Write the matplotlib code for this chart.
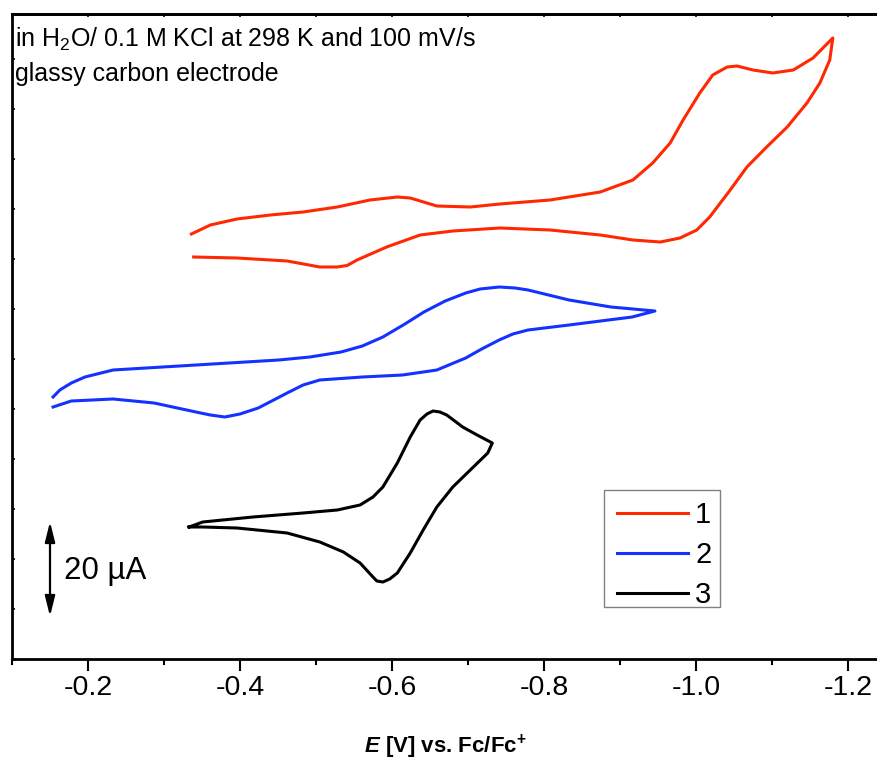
import matplotlib
matplotlib.use("Agg")
import matplotlib.pyplot as plt
from matplotlib.patches import FancyArrowPatch, Rectangle
from matplotlib.ticker import MultipleLocator, FormatStrFormatter

plt.rcParams["font.family"] = ["Liberation Sans", "DejaVu Sans"]
plt.rcParams["mathtext.fontset"] = "custom"
plt.rcParams["mathtext.rm"] = "Liberation Sans"
plt.rcParams["mathtext.it"] = "Liberation Sans:italic"
plt.rcParams["mathtext.bf"] = "Liberation Sans:bold"
plt.rcParams["mathtext.bfit"] = "Liberation Sans:bold:italic"
plt.rcParams["axes.unicode_minus"] = False

# potential (V vs. Fc/Fc+) and current (uA, offset per trace) for each CV
e_1 = [-0.339, -0.396, -0.462, -0.505, -0.528, -0.541, -0.554, -0.593, -0.637,
       -0.680, -0.742, -0.808, -0.874, -0.917, -0.953, -0.979, -1.001, -1.018,
       -1.045, -1.067, -1.093, -1.120, -1.146, -1.163, -1.176, -1.180,
       -1.154, -1.128, -1.101, -1.075, -1.054, -1.041, -1.022, -1.005, -0.983,
       -0.966, -0.943, -0.917, -0.874, -0.808, -0.742, -0.703, -0.659, -0.624,
       -0.607, -0.571, -0.528, -0.483, -0.440, -0.396, -0.361, -0.336]
i_1 = [80.4, 80.2, 79.6, 78.4, 78.4, 78.7, 79.8, 82.4, 84.8,
       85.6, 86.2, 85.8, 84.8, 83.8, 83.4, 84.2, 85.8, 88.4,
       93.8, 98.4, 102.4, 106.4, 111.2, 115.2, 119.8, 124.2,
       120.2, 117.8, 117.2, 117.8, 118.6, 118.4, 116.8, 113.2, 107.8,
       103.2, 99.2, 95.8, 93.4, 91.8, 91.0, 90.4, 90.6, 92.2,
       92.4, 91.8, 90.4, 89.4, 88.8, 88.0, 86.8, 85.0]

e_2 = [-0.154, -0.178, -0.233, -0.287, -0.342, -0.361, -0.380, -0.400, -0.424,
       -0.462, -0.483, -0.505, -0.561, -0.614, -0.659, -0.697, -0.718, -0.741,
       -0.759, -0.779, -0.833, -0.916, -0.946,
       -0.888, -0.833, -0.779, -0.762, -0.741, -0.716, -0.697, -0.670, -0.642,
       -0.617, -0.588, -0.561, -0.533, -0.492, -0.451, -0.342, -0.233, -0.196,
       -0.178, -0.163, -0.154]
i_2 = [50.4, 51.6, 52.0, 51.2, 49.4, 48.8, 48.4, 49.0, 50.2,
       53.2, 54.8, 55.8, 56.4, 56.8, 57.8, 60.2, 62.0, 63.8,
       65.0, 65.8, 66.8, 68.4, 69.6,
       70.4, 71.8, 73.8, 74.2, 74.4, 74.0, 73.2, 71.6, 69.4,
       67.0, 64.4, 62.6, 61.4, 60.4, 59.8, 58.8, 57.8, 56.4,
       55.2, 53.8, 52.4]

e_3 = [-0.333, -0.351, -0.417, -0.483, -0.528, -0.558, -0.575, -0.588, -0.607,
       -0.624, -0.637, -0.646, -0.654, -0.663, -0.672, -0.693, -0.712, -0.732,
       -0.726, -0.703, -0.680, -0.659, -0.641, -0.624, -0.607, -0.597, -0.588,
       -0.580, -0.575, -0.558, -0.536, -0.505, -0.462, -0.396, -0.351, -0.333]
i_3 = [26.4, 27.4, 28.4, 29.2, 29.8, 30.8, 32.4, 34.4, 39.2,
       44.4, 47.8, 49.0, 49.6, 49.4, 48.8, 46.4, 44.8, 43.2,
       41.2, 37.8, 34.4, 30.4, 25.8, 21.2, 17.2, 16.0, 15.4,
       15.6, 16.4, 19.2, 21.4, 23.4, 25.2, 26.2, 26.4, 26.4]

labels = ["1", "2", "3"]
colors = ["#FF2800", "#1432FF", "black"]

fig = plt.figure(figsize=(8.78, 7.64), dpi=100)
ax = fig.add_axes([12 / 878, 105 / 764, 874 / 878, 645 / 764])

for e, i, lab, c in zip([e_1, e_2, e_3], [i_1, i_2, i_3], labels, colors):
    ax.plot(e, i, color=c, lw=2.2, label=lab, solid_joinstyle="round")

ax.set_xlim(-0.1, -1.25)
ax.set_ylim(0, 129)

for side in ["left", "bottom", "top"]:
    ax.spines[side].set_linewidth(2.0)
ax.spines["right"].set_visible(False)

ax.xaxis.set_major_locator(MultipleLocator(0.2))
ax.xaxis.set_minor_locator(MultipleLocator(0.1))
ax.xaxis.set_major_formatter(FormatStrFormatter("%.1f"))
ax.tick_params(axis="x", which="major", direction="out", length=8.6, width=1.5,
               pad=3.0, labelsize=20.5)
ax.tick_params(axis="x", which="minor", direction="out", length=4.3, width=1.5)

ax.yaxis.set_major_locator(MultipleLocator(10))
ax.tick_params(axis="y", which="major", direction="in", length=2.5, width=1.2,
               labelleft=False)

top = ax.secondary_xaxis("top")
top.xaxis.set_major_locator(MultipleLocator(0.1))
top.tick_params(direction="in", length=2.5, width=1.2, labeltop=False)
top.spines["top"].set_linewidth(2.0)

fig.text(15 / 878, 1 - 47 / 764, "in H$_2$O/ 0.1 M KCl at 298 K and 100 mV/s",
         fontsize=18, va="baseline", ha="left")
fig.text(15 / 878, 1 - 81 / 764, "glassy carbon electrode",
         fontsize=18, va="baseline", ha="left")

fig.text(445 / 878, 1 - 753 / 764,
         r"$\mathbfit{E}$ [V] vs. Fc/Fc$^{\mathbf{+}}$",
         fontsize=16, fontweight="bold", ha="center", va="baseline")

# 20 uA scale bar
bar = FancyArrowPatch((-0.150, 8.0), (-0.150, 28.0),
                      arrowstyle="<|-|>,head_length=1.2,head_width=0.3",
                      mutation_scale=10, lw=1.6, color="black")
ax.add_patch(bar)
ax.text(-0.168, 17.6, "20 \u00b5A", fontsize=22.5, ha="left", va="center")

# legend entries without frame, box drawn separately
leg = ax.legend(loc="center left", bbox_to_anchor=(0.6922, 0.1612),
                borderaxespad=0, borderpad=0, fontsize=21, handlelength=2.43,
                handletextpad=0.25, labelspacing=0.42, frameon=False)
ax.add_patch(Rectangle((0.6773, 0.0806), 0.1327, 0.1814, transform=ax.transAxes,
                       fill=False, edgecolor="#808080", lw=1.0))

fig.savefig("out.png", dpi=100)
